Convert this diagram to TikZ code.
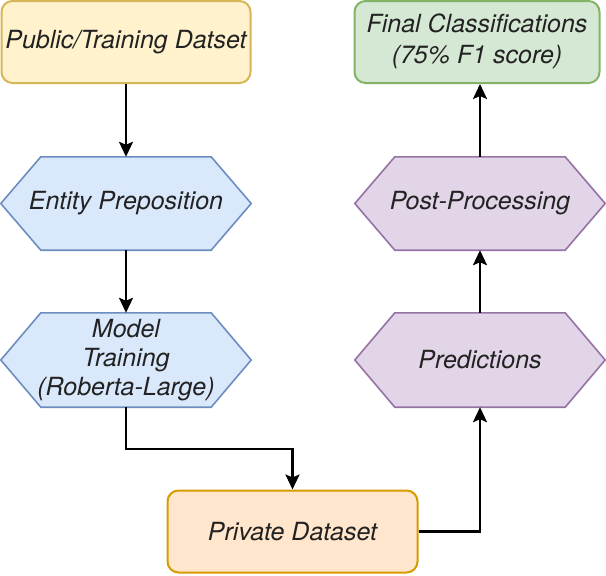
\documentclass[tikz,border=0pt]{standalone}
\usepackage{fontspec}
\setmainfont{TeX Gyre Heros}
\usetikzlibrary{arrows.meta,positioning}
\pgfdeclarelayer{background}
\pgfsetlayers{background,main}
\definecolor{yfill}{HTML}{FFF2CC}\definecolor{ydraw}{HTML}{D6B656}
\definecolor{bfill}{HTML}{DAE8FC}\definecolor{bdraw}{HTML}{6C8EBF}
\definecolor{pfill}{HTML}{E1D5E7}\definecolor{pdraw}{HTML}{9673A6}
\definecolor{gfill}{HTML}{D5E8D4}\definecolor{gdraw}{HTML}{82B366}
\definecolor{ofill}{HTML}{FFE6CC}\definecolor{odraw}{HTML}{D79B00}
\definecolor{txt}{HTML}{222222}
\tikzset{
  lbl/.style={font=\fontsize{25}{29}\selectfont\itshape, text=txt, align=center, inner sep=0pt},
  rbox/.style={lbl, rectangle, rounded corners=11pt, line width=2pt, minimum height=82pt},
  hexbox/.style={lbl, rectangle, minimum width=250pt, minimum height=93pt},
  hexline/.style={line width=1.6pt},
  conn/.style={line width=2.4pt, -{Stealth[length=15pt,width=14pt,inset=3pt]}},
}
\newcommand{\hexdraw}[3]{%
  \begin{pgfonlayer}{background}
  \draw[hexline, fill=#2, draw=#3] (#1.west) -- ([xshift=40pt]#1.north west) -- ([xshift=-40pt]#1.north east) -- (#1.east) -- ([xshift=-40pt]#1.south east) -- ([xshift=40pt]#1.south west) -- cycle;
  \end{pgfonlayer}}
\begin{document}
\begin{tikzpicture}[x=1pt,y=-1pt]
\useasboundingbox (0,0) rectangle (606,576);
\node[rbox, fill=yfill, draw=ydraw, minimum width=249pt] (pub) at (126,42) {Public/Training Datset};
\node[hexbox] (ent) at (126,203.5) {Entity Preposition};
\node[hexbox, minimum height=94pt] (mod) at (126,360) {Model\\Training\\(Roberta-Large)};
\node[rbox, fill=ofill, draw=odraw, minimum width=250pt, minimum height=82pt] (priv) at (292.5,531.5) {Private Dataset};
\node[hexbox, minimum height=94pt] (pred) at (480,360) {Predictions};
\node[hexbox] (post) at (480,203.5) {Post-Processing};
\node[rbox, fill=gfill, draw=gdraw, minimum width=245pt] (fin) at (477,42) {\raisebox{-3pt}{\fontsize{25}{31}\selectfont\itshape\begin{tabular}{@{}c@{}}Final Classifications\\(75\% F1 score)\end{tabular}}};
\hexdraw{ent}{bfill}{bdraw}
\hexdraw{mod}{bfill}{bdraw}
\hexdraw{pred}{pfill}{pdraw}
\hexdraw{post}{pfill}{pdraw}
\coordinate (m1) at (126,449);
\draw[conn] (pub) -- (ent);
\draw[conn] (ent) -- (mod);
\draw[conn] (mod.south) -- (m1) -| (priv.north);
\draw[conn] (priv.east) -| (pred.south);
\draw[conn] (pred) -- (post);
\draw[conn] (post.north) -- (post.north |- fin.south);
\end{tikzpicture}
\end{document}
